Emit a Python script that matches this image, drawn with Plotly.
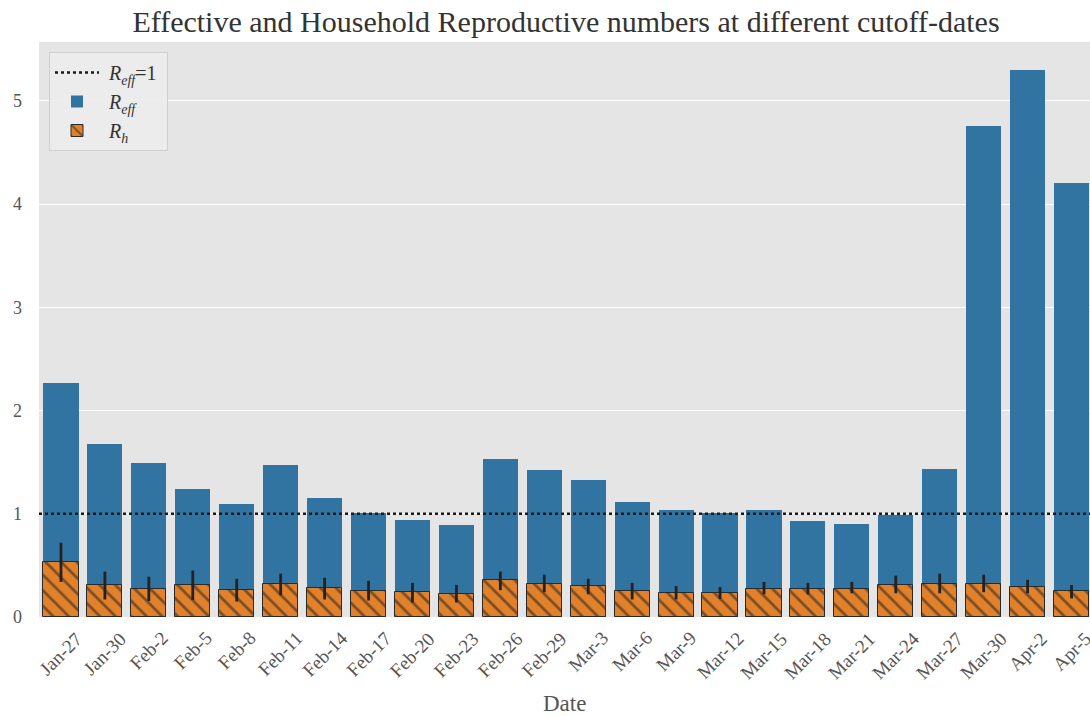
import plotly.graph_objects as go

# Cutoff dates
dates = ["Jan-27", "Jan-30", "Feb-2", "Feb-5", "Feb-8", "Feb-11", "Feb-14", "Feb-17",
         "Feb-20", "Feb-23", "Feb-26", "Feb-29", "Mar-3", "Mar-6", "Mar-9", "Mar-12",
         "Mar-15", "Mar-18", "Mar-21", "Mar-24", "Mar-27", "Mar-30", "Apr-2", "Apr-5"]

# Effective reproductive number
r_eff = [2.27, 1.68, 1.49, 1.24, 1.09, 1.47, 1.15, 1.01,
         0.94, 0.89, 1.53, 1.42, 1.33, 1.11, 1.04, 1.01,
         1.04, 0.93, 0.90, 0.99, 1.43, 4.76, 5.30, 4.20]

# Household reproductive number and its confidence interval
r_h = [0.53, 0.31, 0.27, 0.31, 0.26, 0.32, 0.28, 0.255,
       0.24, 0.22, 0.355, 0.32, 0.30, 0.255, 0.23, 0.23,
       0.275, 0.275, 0.275, 0.31, 0.32, 0.32, 0.29, 0.25]
r_h_low = [0.34, 0.17, 0.155, 0.165, 0.15, 0.21, 0.17, 0.16,
           0.14, 0.14, 0.26, 0.24, 0.22, 0.17, 0.17, 0.175,
           0.22, 0.22, 0.23, 0.23, 0.23, 0.24, 0.23, 0.18]
r_h_high = [0.72, 0.44, 0.39, 0.45, 0.37, 0.42, 0.38, 0.35,
            0.33, 0.31, 0.44, 0.41, 0.37, 0.33, 0.30, 0.29,
            0.34, 0.33, 0.34, 0.40, 0.42, 0.41, 0.36, 0.31]

threshold = 1
y_ticks = [0, 1, 2, 3, 4, 5]

FONT = "Liberation Serif"
BLUE = "#3274A1"
ORANGE = "#E1812C"
TICK_GREY = "#555555"

idx = list(range(len(dates)))
err_plus = [h - v for h, v in zip(r_h_high, r_h)]
err_minus = [v - l for v, l in zip(r_h, r_h_low)]

fig = go.Figure()

fig.add_trace(go.Bar(
    x=idx, y=r_eff, width=0.8,
    name=" <i>R</i><sub><i>eff</i></sub>",
    marker=dict(color=BLUE, line=dict(width=0)),
    legendrank=2,
))

fig.add_trace(go.Bar(
    x=idx, y=r_h, width=0.8,
    name=" <i>R</i><sub><i>h</i></sub>",
    marker=dict(color=ORANGE, line=dict(color="#2a2a2a", width=1),
                pattern=dict(shape="\\", fgcolor="#1a1a1a", bgcolor=ORANGE,
                             size=11, solidity=0.25)),
    error_y=dict(type="data", array=err_plus, arrayminus=err_minus,
                 color="#222222", thickness=2.8, width=0),
    legendrank=3,
))

fig.add_shape(
    type="line", xref="x domain", x0=0, x1=1, yref="y", y0=threshold, y1=threshold,
    line=dict(color="#1a1a1a", width=2.6, dash="dot"), layer="above",
    showlegend=True, name=" <i>R</i><sub><i>eff</i></sub>=1 ", legendrank=1,
)

# Rotated date labels, centred under each bar
for i, label in zip(idx, dates):
    fig.add_annotation(
        x=i, xref="x", y=-8 / 575, yref="paper",
        text=label, textangle=-45, showarrow=False,
        xanchor="center", yanchor="top",
        font=dict(family=FONT, size=19, color=TICK_GREY),
    )

# x-axis title
fig.add_annotation(
    x=0.5, xref="x domain", y=-86 / 575, yref="paper",
    text="Date", showarrow=False, xanchor="center", yanchor="middle",
    font=dict(family=FONT, size=23, color=TICK_GREY),
)

fig.update_layout(
    width=1090, height=716,
    margin=dict(l=39, r=0, t=42, b=99),
    paper_bgcolor="white",
    plot_bgcolor="#E5E5E5",
    barmode="overlay",
    bargap=0,
    font=dict(family=FONT, color=TICK_GREY),
    title=dict(
        text="Effective and Household Reproductive numbers at different cutoff-dates",
        xref="container", x=566 / 1090, xanchor="center",
        yref="container", y=1 - 21 / 716, yanchor="middle",
        font=dict(family=FONT, size=30, color="#333333"),
    ),
    legend=dict(
        x=10 / 1051, y=1 - 10 / 575, xanchor="left", yanchor="top",
        bgcolor="rgba(236,236,236,0.9)", bordercolor="#cfcfcf", borderwidth=1,
        font=dict(family=FONT, size=20, color="#333333"),
        tracegroupgap=0, itemwidth=44,
    ),
    xaxis=dict(
        range=[-0.5, 23.42],
        tickmode="array", tickvals=idx, showticklabels=False,
        showgrid=False, zeroline=False, showline=False, ticks="",
    ),
    yaxis=dict(
        range=[0, 5.57],
        tickmode="array", tickvals=y_ticks,
        showgrid=True, gridcolor="white", gridwidth=1.3,
        zeroline=False, showline=False, ticks="",
        ticklabelstandoff=16,
        tickfont=dict(size=18, color=TICK_GREY),
    ),
)

fig.write_html("out.html")
